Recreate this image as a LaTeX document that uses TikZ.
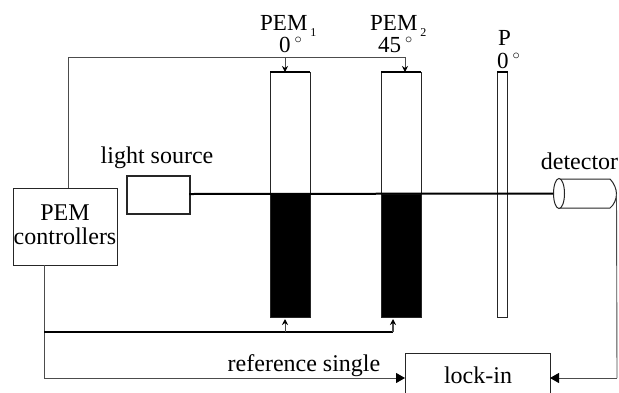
\documentclass[tikz,border=0pt]{standalone}
\usepackage{fontspec}
\setmainfont{Liberation Serif}
\usetikzlibrary{arrows.meta,shapes.geometric}
\tikzset{
  x=1pt,y=-1pt,
  box/.style={draw=black!85,line width=.9pt,inner sep=0pt,anchor=north west},
  thinline/.style={draw=black!70,line width=.9pt},
  beam/.style={draw=black,line width=2pt},
  arr/.style={thinline,-{Stealth[length=6pt,width=6pt,black]}},
  bigarr/.style={thinline,-{Triangle[length=9pt,width=10pt,black]}},
  lbl/.style={inner sep=0pt,anchor=base,font=\fontsize{24}{24}\selectfont},
  toplbl/.style={inner sep=0pt,anchor=base west,font=\fontsize{23}{23}\selectfont},
}
\newcommand{\degsym}{\raisebox{.36em}{\fontsize{15}{15}\selectfont$\circ$}}
\newcommand{\subsym}[1]{\raisebox{-.28em}{\hspace{.12em}\fontsize{12}{12}\selectfont #1}}
\begin{document}
\begin{tikzpicture}
\useasboundingbox[fill=white] (0,0) rectangle (619,392);
% boxes
\node[box,minimum width=103.5pt,minimum height=77pt] (ctl) at (13,188) {};
\node[box,line width=1.7pt,minimum width=63pt,minimum height=38pt] (src) at (126,175) {};
\node[box,minimum width=39.5pt,minimum height=122pt] (pemAt) at (270,72) {};
\node[box,fill=black,minimum width=39.5pt,minimum height=123pt] (pemAb) at (270,194) {};
\node[box,minimum width=39.5pt,minimum height=122pt] (pemBt) at (381,72) {};
\node[box,fill=black,minimum width=39.5pt,minimum height=123pt] (pemBb) at (381,194) {};
\node[box,minimum width=10pt,minimum height=245pt] (pol) at (497,72) {};
\draw[black,line width=1.5pt] (pemAt.north west) -- (pemAt.north east);
\draw[black,line width=1.5pt] (pemBt.north west) -- (pemBt.north east);
\draw[black,line width=1.5pt] (pol.north west) -- (pol.north east);
\node[box,minimum width=145pt,minimum height=50pt] (lock) at (405,353) {};
% detector
\coordinate (detR) at (616.5,194);
\draw[draw=black!85,line width=1pt,fill=white] (559,179) -- (610,179) .. controls (614,183) and (616.5,189) .. (detR) .. controls (616.5,199) and (614,205) .. (610,208) -- (559,208);
\node[draw=black!85,line width=1pt,fill=white,ellipse,minimum width=11pt,minimum height=30pt,inner sep=0pt] (det) at (559,193.5) {};
% beam
\coordinate (bm) at (189,194);
\draw[beam] (bm) -- (det.west);
% control lines
\coordinate (cT) at (68,188);
\coordinate (c1) at (68,57);
\coordinate (c2) at (405,57);
\coordinate (a1) at (285,57);
\draw[thinline] (cT) -- (c1) -- (c2);
\draw[arr] (c2) -- (c2 |- pemBt.north);
\draw[arr] (a1) -- (a1 |- pemAt.north);
% reference lines
\coordinate (cB) at (44,265);
\coordinate (r1) at (44,332);
\coordinate (r2) at (393,332);
\coordinate (r3) at (285,332);
\coordinate (r4) at (44,378);
\coordinate (l1) at (405,378);
\coordinate (l2) at (550,378);
\coordinate (d1) at (617,378);
\draw[thinline] (cB) -- (r4);
\draw[draw=black,line width=1.3pt] (r1) -- (r2);
\draw[arr,line width=1.1pt] (r2) -- (393,319);
\draw[arr] (r3) -- (285,319);
\draw[bigarr] (r4) -- (l1);
\draw[thinline] (detR) -- (d1);
\draw[bigarr] (d1) -- (l2);
% labels
\node[toplbl] (t1) at (260,30) {PEM\subsym{1}};
\node[toplbl] (t2) at (279,52) {0\,\degsym};
\node[toplbl] (t3) at (370,30) {PEM\subsym{2}};
\node[toplbl] (t4) at (378,52) {45\,\degsym};
\node[toplbl] (t5) at (498,45) {P};
\node[toplbl] (t6) at (497,68) {0\,\degsym};
\node[lbl] (t7) at (157,163) {light source};
\node[lbl] (t8) at (579.5,169) {detector};
\node[lbl] (t9) at (65,220) {PEM};
\node[lbl] (t10) at (65,244) {controllers};
\node[lbl] (t11) at (304,371) {reference single};
\node[lbl] (t12) at (478,383) {lock-in};
\end{tikzpicture}
\end{document}
